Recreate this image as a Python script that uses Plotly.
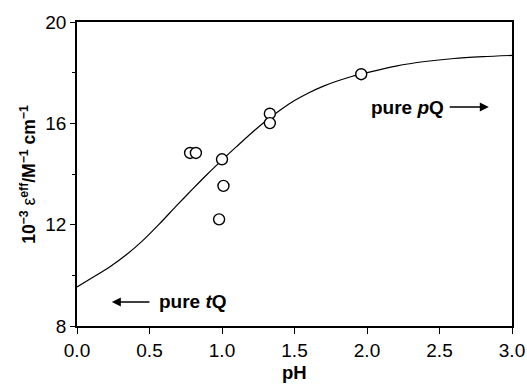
import plotly.graph_objects as go

# Measured data points
ph_points = [0.78, 0.82, 0.98, 1.00, 1.01, 1.33, 1.33, 1.96]
eps_points = [14.83, 14.83, 12.21, 14.58, 13.53, 16.38, 16.01, 17.94]

# Fitted curve
ph_curve = [0.0, 0.11, 0.225, 0.34, 0.455, 0.57, 0.685, 0.8, 0.9, 1.0, 1.1, 1.2, 1.3,
            1.4, 1.5, 1.6, 1.7, 1.8, 1.9, 2.0, 2.2, 2.4, 2.6, 2.8, 3.0]
eps_curve = [9.54, 9.92, 10.33, 10.81, 11.38, 12.04, 12.74, 13.42, 14.0, 14.55, 15.08, 15.6, 16.08,
             16.52, 16.9, 17.21, 17.47, 17.68, 17.86, 18.0, 18.26, 18.44, 18.56, 18.63, 18.68]

x_ticks = [0.0, 0.5, 1.0, 1.5, 2.0, 2.5, 3.0]
x_tick_labels = ["0.0", "0.5", "1.0", "1.5", "2.0", "2.5", "3.0"]
y_ticks = [8, 12, 16, 20]
y_tick_labels = ["8", "12", "16", "20"]

FONT = "Liberation Sans, Arial, sans-serif"

fig = go.Figure()
fig.add_trace(go.Scatter(x=ph_curve, y=eps_curve, mode="lines",
                         line=dict(color="black", width=1.2, shape="spline", smoothing=0.8),
                         hoverinfo="skip", showlegend=False))
fig.add_trace(go.Scatter(x=ph_points, y=eps_points, mode="markers",
                         marker=dict(symbol="circle", size=11, color="white",
                                     line=dict(color="black", width=1.4)),
                         showlegend=False))

fig.update_layout(
    width=527, height=384,
    margin=dict(l=77, r=15, t=22, b=58),
    paper_bgcolor="white", plot_bgcolor="white",
    font=dict(family=FONT, color="black", size=19),
    xaxis=dict(range=[0, 3.0], tickvals=x_ticks, ticktext=x_tick_labels,
               showline=True, linecolor="black", linewidth=1.6, mirror=True,
               ticks="outside", ticklen=6, tickwidth=1.3, tickcolor="black",
               showgrid=False, zeroline=False, automargin=False),
    yaxis=dict(range=[8, 20], tickvals=y_ticks, ticktext=y_tick_labels,
               showline=True, linecolor="black", linewidth=1.6, mirror=True,
               ticks="outside", ticklen=5, tickwidth=1.3, tickcolor="black",
               showgrid=False, zeroline=False, automargin=False,
               minor=dict(dtick=2, ticks="outside", ticklen=3, tickwidth=1, tickcolor="black", showgrid=False)),
)

# x title
fig.add_annotation(xref="paper", yref="paper", x=0.5, y=-0.153, xanchor="center", yanchor="middle",
                   text="<b>pH</b>", showarrow=False, font=dict(size=18.5))

# y title as annotation
fig.add_annotation(
    xref="paper", yref="paper", x=-0.113, y=0.5, xanchor="center", yanchor="middle",
    textangle=-90, showarrow=False,
    text="<b>10<sup>−3</sup></b> ε<b><sup>eff</sup>/M<sup>−1</sup> cm<sup>−1</sup></b>",
    font=dict(size=17.5, family=FONT))

# arrows
fig.add_annotation(x=0.24, y=8.95, ax=0.51, ay=8.95, xref="x", yref="y", axref="x", ayref="y",
                   text="", showarrow=True, arrowhead=2, arrowsize=1.2, arrowwidth=1.5, arrowcolor="black")
fig.add_annotation(x=0.55, y=8.95, xref="x", yref="y", xanchor="left", yanchor="middle",
                   text="<b>pure <i>t</i>Q</b>", showarrow=False, font=dict(size=19))
fig.add_annotation(x=2.84, y=16.64, ax=2.56, ay=16.64, xref="x", yref="y", axref="x", ayref="y",
                   text="", showarrow=True, arrowhead=2, arrowsize=1.2, arrowwidth=1.5, arrowcolor="black")
fig.add_annotation(x=2.545, y=16.64, xref="x", yref="y", xanchor="right", yanchor="middle",
                   text="<b>pure <i>p</i>Q</b>", showarrow=False, font=dict(size=19))

fig.write_html("out.html")
